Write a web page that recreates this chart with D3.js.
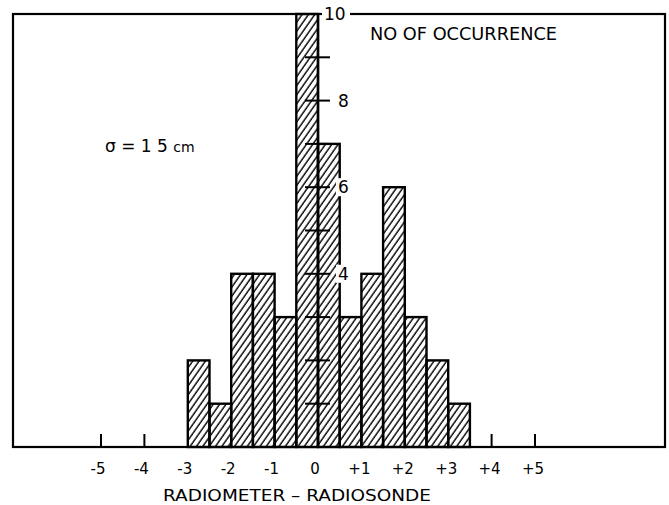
<!DOCTYPE html>
<html>
<head>
<meta charset="utf-8">
<script src="https://cdn.jsdelivr.net/npm/d3@7"></script>
<style>
  body { margin: 0; background: #fff; }
  svg { display: block; }
</style>
</head>
<body>
<svg id="chart"></svg>
<script>
// histogram bins: half-unit wide, starting at -3
const binStarts = [-3, -2.5, -2, -1.5, -1, -0.5, 0, 0.5, 1, 1.5, 2, 2.5, 3];
const counts = [2, 1, 4, 4, 3, 10, 7, 3, 4, 6, 3, 2, 1];
const xTickValues = [-5, -4, -3, -2, -1, 0, 1, 2, 3, 4, 5];
const xTickLabels = ['-5', '-4', '-3', '-2', '-1', '0', '+1', '+2', '+3', '+4', '+5'];
const yTickValues = [1, 2, 3, 4, 5, 6, 7, 8, 9];
const yLabelValues = [4, 6, 8, 10];

const W = 669, H = 505;
const frame = {left: 13, top: 14, right: 665, bottom: 447};

const svg = d3.select('#chart')
  .attr('width', W)
  .attr('height', H);

const x = d3.scaleLinear()
  .domain([0, 5])
  .range([318, 535]);

const y = d3.scaleLinear()
  .domain([0, 10])
  .range([frame.bottom, frame.top]);

// hatch pattern
const defs = svg.append('defs');
defs.append('pattern')
  .attr('id', 'hatch')
  .attr('patternUnits', 'userSpaceOnUse')
  .attr('width', 5.2)
  .attr('height', 10)
  .attr('patternTransform', 'rotate(35)')
  .append('line')
  .attr('x1', 1).attr('y1', 0)
  .attr('x2', 1).attr('y2', 10)
  .attr('stroke', '#000')
  .attr('stroke-width', 1.4);

// outer frame
svg.append('rect')
  .attr('x', frame.left)
  .attr('y', frame.top)
  .attr('width', frame.right - frame.left)
  .attr('height', frame.bottom - frame.top)
  .attr('fill', 'none')
  .attr('stroke', '#000')
  .attr('stroke-width', 2.2);

// bars
svg.append('g')
  .selectAll('rect')
  .data(binStarts.map((s, i) => ({s, c: counts[i]})))
  .join('rect')
  .attr('x', d => x(d.s))
  .attr('y', d => y(d.c))
  .attr('width', d => x(d.s + 0.5) - x(d.s))
  .attr('height', d => y(0) - y(d.c))
  .attr('fill', 'url(#hatch)')
  .attr('stroke', '#000')
  .attr('stroke-width', 2.4);

// x ticks visible outside the bars
svg.append('g')
  .selectAll('line')
  .data([-5, -4, 4, 5])
  .join('line')
  .attr('x1', d => x(d)).attr('x2', d => x(d))
  .attr('y1', frame.bottom).attr('y2', frame.bottom - 13)
  .attr('stroke', '#000')
  .attr('stroke-width', 2);

svg.append('g')
  .style('font', '15px "DejaVu Sans", sans-serif')
  .selectAll('text')
  .data(xTickValues)
  .join('text')
  .attr('x', d => x(d) + (d > 0 ? -2 : -3))
  .attr('y', 474)
  .attr('text-anchor', 'middle')
  .text((d, i) => xTickLabels[i]);

svg.append('text')
  .attr('x', 163)
  .attr('y', 501)
  .attr('textLength', 268)
  .attr('lengthAdjust', 'spacingAndGlyphs')
  .style('font', '15px "DejaVu Sans", sans-serif')
  .text('RADIOMETER \u2013 RADIOSONDE');

// vertical axis through zero
svg.append('line')
  .attr('x1', x(0)).attr('x2', x(0))
  .attr('y1', y(0)).attr('y2', y(10))
  .attr('stroke', '#000')
  .attr('stroke-width', 2.4);

svg.append('g')
  .selectAll('line')
  .data(yTickValues)
  .join('line')
  .attr('x1', x(0) - 13).attr('x2', x(0) + 12)
  .attr('y1', d => y(d)).attr('y2', d => y(d))
  .attr('stroke', '#000')
  .attr('stroke-width', 2);

const yLabels = svg.append('g')
  .style('font', '17px "DejaVu Sans", sans-serif')
  .selectAll('g')
  .data(yLabelValues)
  .join('g')
  .attr('transform', d => `translate(${d === 10 ? x(0) + 6 : x(0) + 20}, ${y(d)})`);

yLabels.append('rect')
  .attr('x', -2)
  .attr('y', -9)
  .attr('width', d => d === 10 ? 28 : 14)
  .attr('height', 18)
  .attr('fill', '#fff');

yLabels.append('text')
  .attr('x', 0)
  .attr('y', 6)
  .text(d => d);

svg.append('text')
  .attr('x', 370)
  .attr('y', 40)
  .attr('textLength', 187)
  .attr('lengthAdjust', 'spacingAndGlyphs')
  .style('font', '17px "DejaVu Sans", sans-serif')
  .text('NO  OF OCCURRENCE');

const sigma = svg.append('text')
  .attr('x', 105)
  .attr('y', 152)
  .style('font', '17px "DejaVu Sans", sans-serif');
sigma.append('tspan').text('\u03c3 = 1  5 ');
sigma.append('tspan').style('font-size', '14px').text('cm');
</script>
</body>
</html>
